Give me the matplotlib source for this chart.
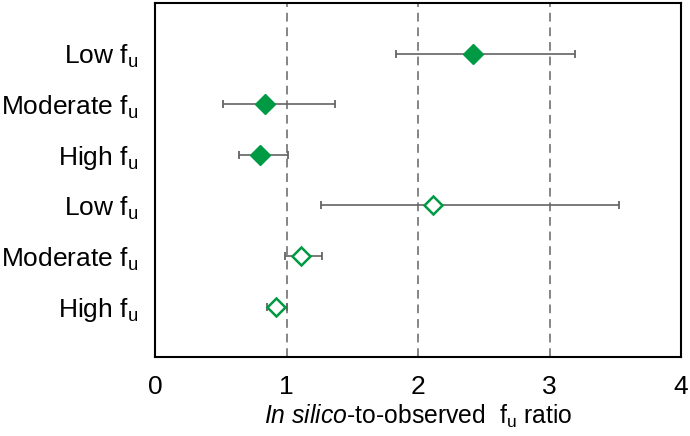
import matplotlib
matplotlib.use('Agg')
import matplotlib.pyplot as plt
import numpy as np

# Values (top row first)
labels = ['Low', 'Moderate', 'High', 'Low', 'Moderate', 'High']
ratio = [2.42, 0.84, 0.80, 2.11, 1.11, 0.92]
ci_low = [1.83, 0.52, 0.64, 1.26, 0.985, 0.85]
ci_high = [3.19, 1.37, 1.01, 3.53, 1.27, 1.00]
filled = [True, True, True, False, False, False]

green = '#009A44'

plt.rcParams['font.family'] = ['Liberation Sans', 'DejaVu Sans']
plt.rcParams['mathtext.fontset'] = 'custom'
plt.rcParams['mathtext.rm'] = 'Liberation Sans'
plt.rcParams['mathtext.it'] = 'Liberation Sans:italic'

fig = plt.figure(figsize=(6.9, 4.36), dpi=100)
ax = fig.add_axes([0.2246, 0.181, 0.7625, 0.812])

n = len(labels)
ypos = np.arange(n, 0, -1)
ratio = np.array(ratio)
err = np.vstack([ratio - np.array(ci_low), np.array(ci_high) - ratio])

for xv in [1, 2, 3]:
    ax.axvline(xv, color='#858585', lw=1.4, ls=(0, (4.5, 3)), zorder=1)

for i in range(n):
    ax.errorbar(ratio[i], ypos[i], xerr=err[:, i:i + 1], fmt='none',
                ecolor='#646464', elinewidth=1.2, capsize=3, capthick=1.3, zorder=2)
    ax.plot(ratio[i], ypos[i], marker='D', ms=10.5 if filled[i] else 9.5, ls='none',
            markerfacecolor=green if filled[i] else 'white',
            markeredgecolor=green, markeredgewidth=1.8 if not filled[i] else 1.0, zorder=3)

ax.set_xlim(0, 4)
ax.set_ylim(0, n + 1)
ax.set_xticks([0, 1, 2, 3, 4])
ax.set_yticks(ypos)
ax.set_yticklabels([l + r' f$_\mathregular{u}$' for l in labels])
ax.tick_params(axis='both', length=0, labelsize=19)
ax.tick_params(axis='y', pad=12)
ax.tick_params(axis='x', pad=13)
for s in ax.spines.values():
    s.set_linewidth(1.5)

ax.set_xlabel(r'$\mathit{In\ silico}$-to-observed  f$_\mathregular{u}$ ratio', fontsize=17.8, labelpad=2.5)

fig.savefig('out.png', dpi=100)
